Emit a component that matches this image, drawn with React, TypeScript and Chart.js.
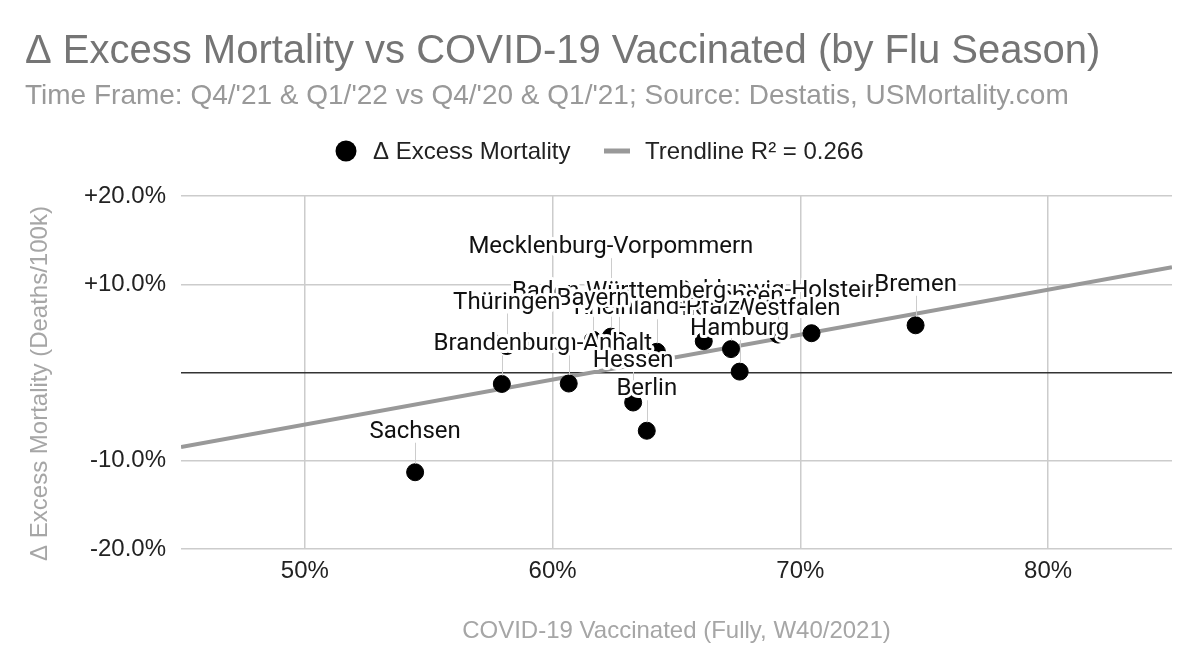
import React, { useEffect, useRef } from "react";
import Chart from "chart.js/auto";

const chartTitle = "Δ Excess Mortality vs COVID-19 Vaccinated (by Flu Season)";
const chartSubtitle = "Time Frame: Q4/'21 & Q1/'22 vs Q4/'20 & Q1/'21; Source: Destatis, USMortality.com";
const xAxisTitle = "COVID-19 Vaccinated (Fully, W40/2021)";
const yAxisTitle = "Δ Excess Mortality (Deaths/100k)";
const pointSeriesName = "Δ Excess Mortality";
const trendSeriesName = "Trendline R² = 0.266";

// one entry per state
const states = [
    "Sachsen",
    "Thüringen",
    "Brandenburg",
    "Sachsen-Anhalt",
    "Bayern",
    "Mecklenburg-Vorpommern",
    "Baden-Württemberg",
    "Hessen",
    "Berlin",
    "Rheinland-Pfalz",
    "Niedersachsen",
    "Nordrhein-Westfalen",
    "Hamburg",
    "Schleswig-Holstein",
    "Saarland",
    "Bremen",
];
// fully vaccinated, %
const vaccinated = [54.45, 58.15, 57.95, 60.65, 61.63, 62.35, 62.68, 63.25, 63.8, 64.21, 66.1, 67.2, 67.55, 69.1, 70.45, 74.65];
// change in excess mortality, %
const excessChange = [-11.3, 3.0, -1.3, -1.25, 3.7, 4.06, 3.6, -3.4, -6.6, 2.35, 3.55, 2.65, 0.1, 4.3, 4.45, 5.35];

// trendline end points
const trendX = [45, 85];
const trendY = [-8.45, 11.93];

const xTickValues = [50, 60, 70, 80];
const yTickValues = [-20, -10, 0, 10, 20];

// annotation stem heights in px (same order as states)
const labelLift = [43, 46, 42, 42, 43, 92, 51, 44, 44, 46, 47, 43, 45, 46, 43, 43];
// labels that the original chart dropped
const hiddenLabels = ["Saarland"];
// later ones paint over earlier ones
const labelDrawOrder = [
    "Schleswig-Holstein",
    "Niedersachsen",
    "Nordrhein-Westfalen",
    "Rheinland-Pfalz",
    "Baden-Württemberg",
    "Bayern",
    "Mecklenburg-Vorpommern",
    "Thüringen",
    "Bremen",
    "Hamburg",
    "Sachsen-Anhalt",
    "Brandenburg",
    "Hessen",
    "Berlin",
    "Sachsen",
];

const ARIAL = '"Liberation Sans", Arial, sans-serif';
const ROBOTO = "Roboto, sans-serif";

const annotationPlugin = {
    id: "stateLabels",
    afterDatasetsDraw(chart: any) {
        const ctx = chart.ctx;
        const meta = chart.getDatasetMeta(0);
        const radius = chart.data.datasets[0].pointRadius;
        ctx.save();
        ctx.font = `24px ${ROBOTO}`;
        ctx.textAlign = "center";
        ctx.textBaseline = "middle";

        // stems first
        ctx.strokeStyle = "#cccccc";
        ctx.lineWidth = 1;
        labelDrawOrder.forEach((name) => {
            const i = states.indexOf(name);
            const pt = meta.data[i];
            const ly = pt.y - labelLift[i] + 2.5;
            ctx.beginPath();
            ctx.moveTo(Math.round(pt.x) + 0.5, pt.y - radius);
            ctx.lineTo(Math.round(pt.x) + 0.5, ly + 11);
            ctx.stroke();
        });

        labelDrawOrder.forEach((name) => {
            if (hiddenLabels.includes(name)) return;
            const i = states.indexOf(name);
            const pt = meta.data[i];
            const ly = pt.y - labelLift[i] + 2.5;
            ctx.lineJoin = "round";
            ctx.lineWidth = 6;
            ctx.strokeStyle = "#ffffff";
            ctx.strokeText(name, pt.x, ly);
            ctx.fillStyle = "#111111";
            ctx.fillText(name, pt.x, ly);
        });
        ctx.restore();
    },
};

const headerPlugin = {
    id: "header",
    afterDraw(chart: any) {
        const ctx = chart.ctx;
        const area = chart.chartArea;
        ctx.save();

        ctx.textAlign = "left";
        ctx.textBaseline = "alphabetic";
        ctx.fillStyle = "#757575";
        ctx.font = `40px ${ARIAL}`;
        ctx.fillText(chartTitle, 25, 63);
        ctx.fillStyle = "#999999";
        ctx.font = `28px ${ARIAL}`;
        ctx.fillText(chartSubtitle, 25, 104);

        // legend
        const ds = chart.data.datasets;
        ctx.font = `24px ${ARIAL}`;
        ctx.textBaseline = "middle";
        const ly = 151;
        ctx.fillStyle = ds[0].backgroundColor;
        ctx.beginPath();
        ctx.arc(346, ly, 10.5, 0, Math.PI * 2);
        ctx.fill();
        ctx.fillStyle = "#222222";
        ctx.fillText(ds[0].label, 373, ly + 1);
        ctx.strokeStyle = ds[1].borderColor;
        ctx.lineWidth = 5;
        ctx.beginPath();
        ctx.moveTo(604, ly);
        ctx.lineTo(630, ly);
        ctx.stroke();
        ctx.fillText(ds[1].label, 645, ly + 1);

        // y axis title
        ctx.save();
        ctx.translate(40, (area.top + area.bottom) / 2 + 11);
        ctx.rotate(-Math.PI / 2);
        ctx.textAlign = "center";
        ctx.fillStyle = "#a6a6a6";
        ctx.fillText(yAxisTitle, 0, 0);
        ctx.restore();

        ctx.restore();
    },
};

export default function App() {
    const canvas = useRef<HTMLCanvasElement>(null);

    useEffect(() => {
        document.body.style.margin = "0";
        const ctx = canvas.current;

        const chart = new Chart(ctx!, {
            type: "scatter",
            data: {
                datasets: [
                    {
                        label: pointSeriesName,
                        data: vaccinated.map((v, i) => ({ x: v, y: excessChange[i] })),
                        backgroundColor: "#000000",
                        borderColor: "#000000",
                        pointRadius: 8.5,
                        pointHoverRadius: 8.5,
                        order: 1,
                    },
                    {
                        type: "line",
                        label: trendSeriesName,
                        data: trendX.map((v, i) => ({ x: v, y: trendY[i] })),
                        borderColor: "#999999",
                        borderWidth: 4,
                        pointRadius: 0,
                        fill: false,
                        order: 2,
                    } as any,
                ],
            },
            options: {
                animation: false,
                responsive: true,
                maintainAspectRatio: false,
                layout: {
                    padding: { top: 196, right: 28, bottom: 0, left: 0 },
                },
                plugins: {
                    legend: { display: false },
                    title: { display: false },
                    tooltip: { enabled: false },
                },
                scales: {
                    x: {
                        type: "linear",
                        min: 45,
                        max: 85,
                        afterBuildTicks: (scale: any) => {
                            scale.ticks = xTickValues.map((v) => ({ value: v }));
                        },
                        afterFit: (scale: any) => {
                            scale.height = 121;
                        },
                        border: { display: false },
                        grid: { color: "#cccccc", lineWidth: 1.5, drawTicks: false },
                        ticks: {
                            padding: 8,
                            color: "#222222",
                            font: { family: ARIAL, size: 24 },
                            callback: (v: any) => `${v}%`,
                        },
                        title: {
                            display: true,
                            text: xAxisTitle,
                            color: "#a6a6a6",
                            font: { family: ARIAL, size: 24 },
                            padding: { top: 0, bottom: 24 },
                        },
                    },
                    y: {
                        type: "linear",
                        min: -20,
                        max: 20,
                        afterBuildTicks: (scale: any) => {
                            scale.ticks = yTickValues.map((v) => ({ value: v }));
                        },
                        afterFit: (scale: any) => {
                            scale.width = 181;
                        },
                        border: { display: false },
                        grid: {
                            color: (c: any) => (c.tick && c.tick.value === 0 ? "#333333" : "#cccccc"),
                            lineWidth: 1.5,
                            drawTicks: false,
                        },
                        ticks: {
                            padding: 15,
                            color: "#222222",
                            font: { family: ARIAL, size: 24 },
                            callback: (v: any) => (v === 0 ? "" : `${v > 0 ? "+" : ""}${Number(v).toFixed(1)}%`),
                        },
                    },
                },
            },
            plugins: [annotationPlugin, headerPlugin],
        });

        return () => {
            chart.destroy();
        };
    }, []);

    return (
        <div style={{ width: 1200, height: 670, position: "relative", background: "#ffffff" }}>
            <canvas ref={canvas}></canvas>
        </div>
    );
}
